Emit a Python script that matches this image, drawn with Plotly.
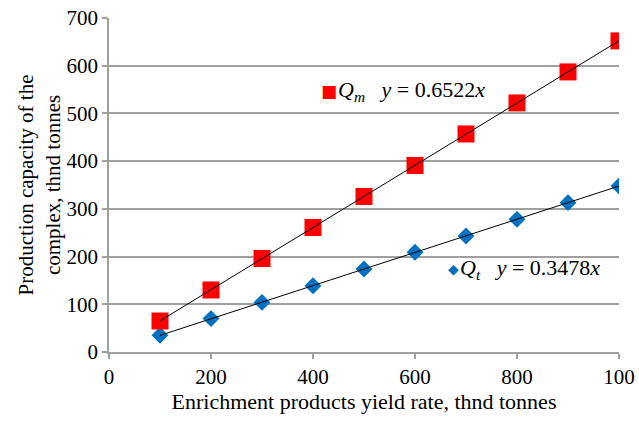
import plotly.graph_objects as go

x_vals = [100, 200, 300, 400, 500, 600, 700, 800, 900, 1000]
qm_vals = [65, 130, 196, 261, 326, 391, 457, 522, 587, 652]
qt_vals = [35, 70, 104, 139, 174, 209, 243, 278, 313, 348]
qm_slope = 0.6522
qt_slope = 0.3478
x_ticks = [0, 200, 400, 600, 800, 1000]
x_ticktext = ["0", "200", "400", "600", "800", "100"]
y_ticks = [0, 100, 200, 300, 400, 500, 600, 700]

FONT = "Liberation Serif, 'Times New Roman', Times, serif"
GRID = "#a0a0a0"

fig = go.Figure()
fig.add_trace(go.Scatter(x=x_vals, y=qt_vals, mode="markers",
                         marker=dict(symbol="diamond", size=13, color="#0070c0"), showlegend=False))
fig.add_trace(go.Scatter(x=x_vals, y=qm_vals, mode="markers",
                         marker=dict(symbol="square", size=17, color="#ff0000"), showlegend=False))
# trend lines drawn on top
fig.add_trace(go.Scatter(x=[x_vals[0], x_vals[-1]], y=[qm_slope * x_vals[0], qm_slope * x_vals[-1]],
                         mode="lines", line=dict(color="black", width=1), showlegend=False))
fig.add_trace(go.Scatter(x=[x_vals[0], x_vals[-1]], y=[qt_slope * x_vals[0], qt_slope * x_vals[-1]],
                         mode="lines", line=dict(color="black", width=1), showlegend=False))

L, R, T, B = 109, 20, 18, 72
W, H = 639, 424
pw, ph = W - L - R, H - T - B

def px(xp):
    return (xp - L) / pw

def py(yp):
    return (H - B - yp) / ph

annotations = [
    dict(x=px(329), y=py(91), xref="paper", yref="paper", text="■", showarrow=False,
         font=dict(family="DejaVu Sans", size=17, color="#ff0000"), xanchor="center", yanchor="middle"),
    dict(x=px(336), y=py(91), xref="paper", yref="paper",
         text="<i>Q</i><sub><i>m</i></sub>   <i>y</i> = %.4f<i>x</i>" % qm_slope, showarrow=False,
         font=dict(family=FONT, size=22, color="black"), xanchor="left", yanchor="middle"),
    dict(x=px(453), y=py(269), xref="paper", yref="paper", text="◆", showarrow=False,
         font=dict(family="DejaVu Sans", size=14, color="#0070c0"), xanchor="center", yanchor="middle"),
    dict(x=px(458), y=py(269), xref="paper", yref="paper",
         text="<i>Q</i><sub><i>t</i></sub>   <i>y</i> = %.4f<i>x</i>" % qt_slope, showarrow=False,
         font=dict(family=FONT, size=22, color="black"), xanchor="left", yanchor="middle"),
]

fig.update_layout(
    width=W, height=H,
    margin=dict(l=L, r=R, t=T, b=B),
    paper_bgcolor="white", plot_bgcolor="white",
    font=dict(family=FONT, size=21, color="black"),
    annotations=annotations,
    xaxis=dict(range=[0, 1000], tickvals=x_ticks, ticktext=x_ticktext, showgrid=False,
               showline=True, linecolor=GRID, linewidth=1.5, ticks="outside", ticklen=5,
               tickcolor=GRID, tickwidth=1.5, zeroline=False, automargin=False,
               tickfont=dict(family=FONT, size=21, color="black"),
               title=dict(text="Enrichment products yield rate, thnd tonnes", standoff=4,
                          font=dict(family=FONT, size=22, color="black"))),
    yaxis=dict(range=[0, 700], tickvals=y_ticks, showgrid=True, gridcolor=GRID, gridwidth=1.5,
               showline=True, linecolor=GRID, linewidth=1.5, ticks="outside", ticklen=5,
               tickcolor=GRID, tickwidth=1.5, zeroline=False, automargin=False,
               tickfont=dict(family=FONT, size=21, color="black"),
               title=dict(text="Production capacity of the<br>complex, thnd tonnes", standoff=0,
                          font=dict(family=FONT, size=21, color="black"))),
)

fig.write_html("out.html")
